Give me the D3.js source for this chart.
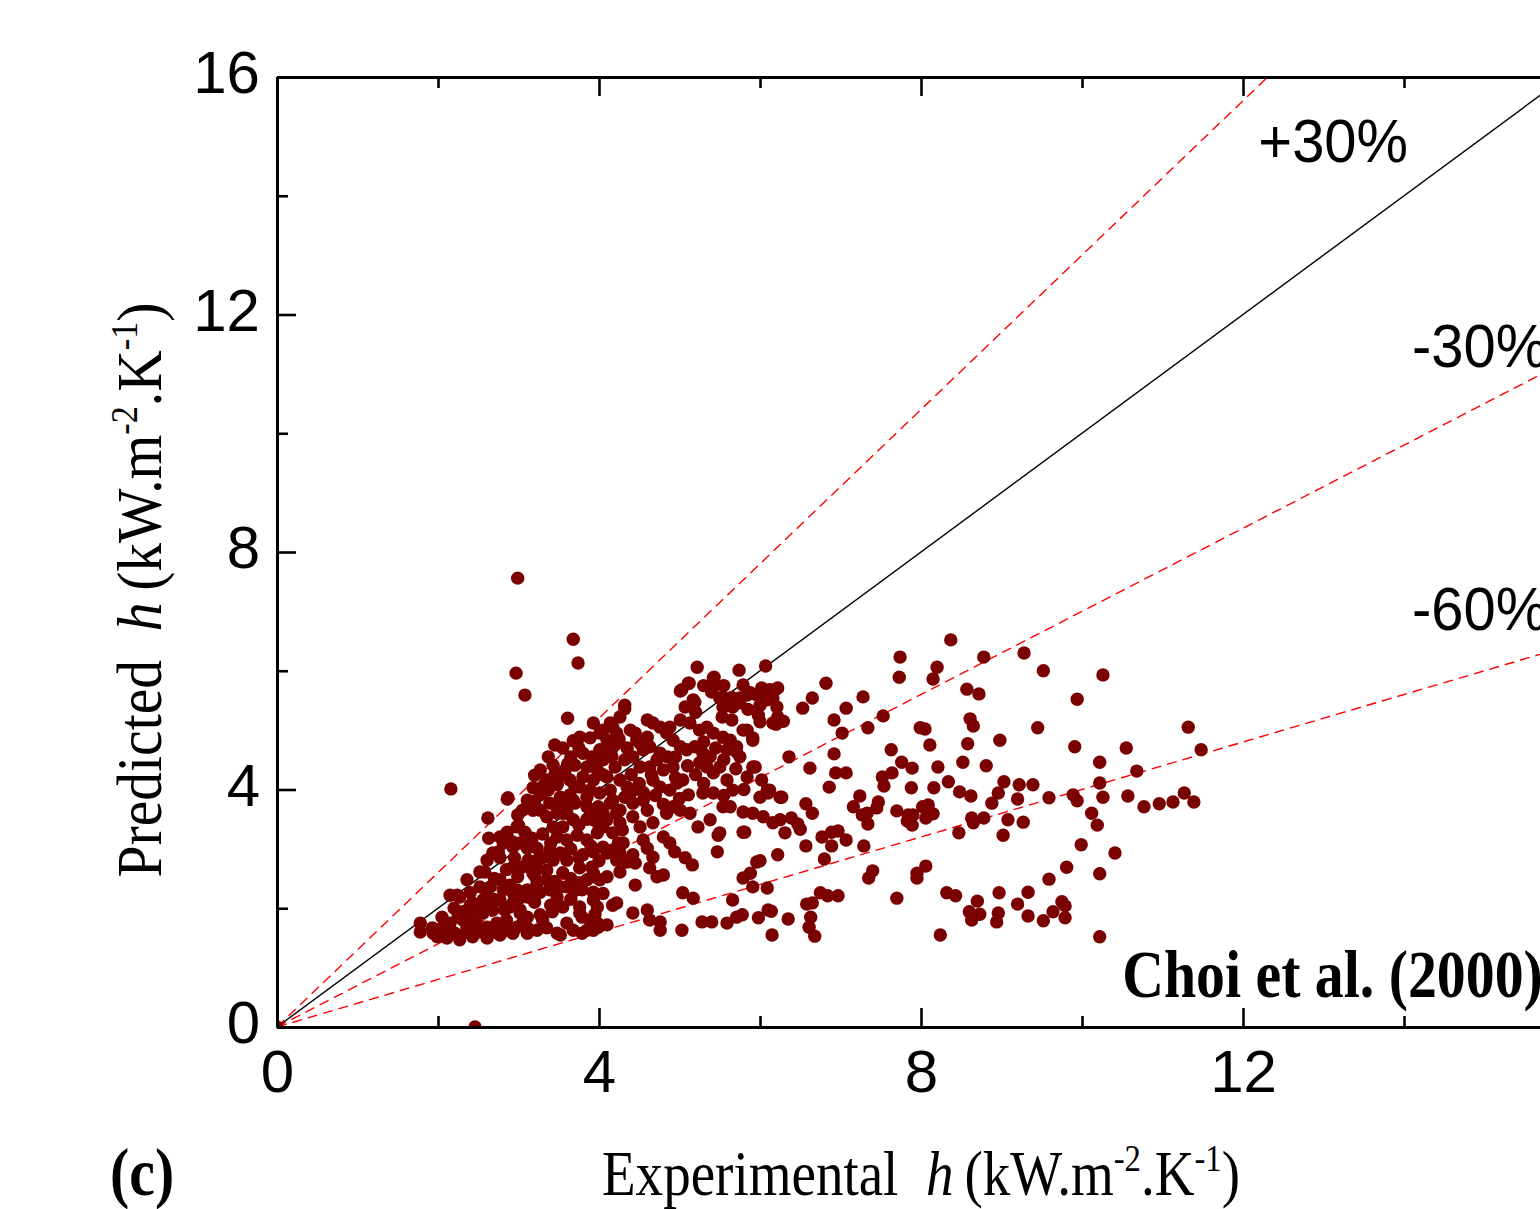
<!DOCTYPE html>
<html>
<head>
<meta charset="utf-8">
<script src="https://cdn.jsdelivr.net/npm/d3@7"></script>
<style>
  html, body { margin: 0; padding: 0; background: #fff; overflow: hidden; }
  svg { display: block; }
</style>
</head>
<body>
<svg id="chart" width="1540" height="1209"></svg>
<script>
// ---------------- data ----------------
const xDomain = [0, 16];
const yDomain = [0, 16];
const majorTicks = [0, 4, 8, 12, 16];
const minorTicks = [2, 6, 10, 14];
const xTickLabels = [0, 4, 8, 12];
const yTickLabels = [0, 4, 8, 12, 16];
const xTitle = "Experimental";
const yTitle = "Predicted";
const unitsMain = "(kW.m";
const unitsSup1 = "-2";
const unitsMid = ".K";
const unitsSup2 = "-1";
const panelLabel = "(c)";
const correlationLabel = "Choi et al. (2000)";
const deviationFactors = [1.3, 0.7, 0.4];
const deviationLabels = ["+30%", "-30%", "-60%"];
const deviationLabelPos = [[12.19, 14.57], [14.10, 11.12], [14.10, 6.69]];
const correlationLabelPos = [10.50, 0.50];

// [experimental h, predicted h]
const dataPoints = [
  [0,0],[2.46,0],
  [2.99,7.56],[3.68,6.53],[3.74,6.13],[2.97,5.96],[3.08,5.59],[3.61,5.20],[3.68,4.82],[2.16,4.01],
  [3.61,4.43],[2.62,3.52],[2.86,3.84],[2.63,3.18],[3.18,4.03],[3.34,4.13],
  [5.22,6.06],[5.74,6.01],[6.07,6.08],[5.43,5.89],[5.12,5.79],[5.01,5.66],[5.42,5.73],[5.40,5.64],
  [5.79,5.76],[5.54,5.56],[5.75,5.54],[5.88,5.63],[5.17,5.51],[5.07,5.39],[6.19,5.68],[6.09,5.51],
  [6.00,5.42],[6.21,5.39],[5.98,5.25],[6.00,5.14],[6.16,5.12],[5.84,5.00],[5.91,4.87],[5.66,4.72],
  [5.71,4.63],[5.94,4.38],[6.25,3.87],[6.02,4.16],[6.09,3.99],[6.10,3.94],[5.03,5.68],[5.11,5.79],
  [5.19,5.47],[5.42,5.88],[5.50,5.54],[5.54,5.39],[5.53,5.22],[5.65,5.17],[5.84,5.59],[5.75,5.46],
  [5.66,5.39],[6.12,5.68],[6.16,5.54],[6.04,5.51],[5.79,5.00],[5.91,4.83],[5.75,4.55],[5.91,4.38],
  [5.84,4.21],[6.12,3.99],[6.00,3.87],[5.50,4.38],[5.59,4.16],[5.42,3.94],[5.54,3.71],[5.63,3.71],
  [5.66,3.99],[5.38,3.49],[5.50,3.27],[5.79,3.28],[5.91,3.60],[6.04,3.54],[6.16,3.44],[6.25,3.49],
  [5.11,3.91],[5.29,3.94],[5.09,4.67],[5.19,4.72],[5.29,4.61],[5.38,4.55],[5.25,4.45],[5.34,4.38],
  [5.42,4.28],[5.01,5.17],[5.13,5.12],[5.25,5.00],[5.34,5.05],[5.42,4.95],[5.54,4.88],[5.63,4.83],
  [5.71,4.72],[5.59,4.67],
  [3.35,4.16],[3.48,4.11],[3.30,3.94],[3.39,3.77],[3.52,3.87],[3.27,3.65],[3.93,5.12],[4.05,5.00],
  [4.14,5.12],[4.26,5.22],[4.32,5.36],[4.22,4.95],[4.10,4.83],[3.80,4.61],[3.91,4.55],[3.85,4.38],
  [3.98,4.33],[4.05,4.50],[4.16,4.55],[4.20,4.38],[4.10,4.21],[3.93,4.16],[3.80,4.21],[3.76,4.04],
  [3.89,3.99],[4.01,3.94],[4.14,3.99],[4.26,4.16],[4.35,4.04],[3.70,3.77],[3.85,3.71],[3.99,3.71],
  [4.14,3.77],[4.26,3.65],[4.42,3.77],[4.55,3.82],[4.60,3.65],[4.42,3.54],[4.26,3.44],[4.10,3.49],
  [3.93,3.49],[4.29,3.32],[4.51,3.37],[4.67,3.44],[4.84,3.60],[4.92,3.71],[5.01,3.65],[5.13,3.60],
  [4.39,5.00],[4.47,4.83],[4.55,4.67],[4.60,4.88],[4.67,5.12],[4.76,5.05],[4.84,4.95],[4.92,4.83],
  [5.01,4.72],[4.42,4.55],[4.51,4.38],[4.63,4.38],[4.72,4.50],[4.80,4.33],[4.92,4.38],[4.67,4.16],
  [4.76,4.04],[4.88,3.99],[4.97,4.11],[5.04,4.16],[4.32,5.42],[4.01,4.95],[4.17,5.05],[4.60,5.17],
  [4.88,5.05],[4.76,4.61],[4.63,4.72],[4.51,4.78],
  [3.70,4.41],[3.64,4.16],[4.01,4.67],[4.20,4.75],[4.32,4.50],[4.32,3.87],[3.64,3.91],[3.95,3.57],
  [3.58,4.33],[3.76,4.88],[3.89,4.87],[3.27,4.33],[3.43,4.41],[3.52,4.24],[3.37,4.55],[3.20,4.24],
  [3.45,4.75],
  [3.55,4.70],[3.65,4.55],[3.75,4.70],[3.95,4.45],[4.05,4.25],[4.15,4.65],[4.25,4.85],[4.35,4.70],
  [4.45,4.95],[4.40,4.25],[4.50,4.10],[4.55,3.95],[4.40,3.95],[4.70,3.90],[4.80,3.75],[4.65,4.25],
  [4.85,4.55],[4.95,4.55],[3.45,3.75],[3.55,3.60],[3.60,3.75],[3.75,3.40],[3.85,3.50],[4.00,3.40],
  [4.05,3.60],[3.70,4.05],[3.45,4.25],[3.30,4.05],[3.20,3.80],[3.05,3.65],[3.00,3.40],[3.30,3.25],
  [3.40,3.10],[3.65,3.00],[3.75,2.85],[3.90,3.05],[4.00,2.80],[3.30,2.85],[3.20,2.55],[3.45,2.45],
  [3.65,2.50],[3.55,2.60],[2.85,2.65],[2.70,2.50],[2.95,2.85],[2.70,2.15],[2.60,2.30],[3.00,2.15],
  [3.20,2.10],[2.40,2.05],[2.05,1.85],[2.20,2.00],[2.00,1.60],[2.35,1.60],[2.50,1.60],[2.70,1.60],
  [2.85,1.80],[3.05,1.75],[3.30,1.80],[3.40,2.05],[3.65,2.15],[3.60,1.75],[3.95,1.90],[4.05,2.25],
  [3.70,2.30],
  [5.20,5.30],[5.30,5.75],[5.55,5.75],[5.65,5.55],[5.85,5.35],[5.95,5.60],[5.30,4.80],[5.45,4.70],
  [5.20,4.25],[5.30,4.10],[5.55,4.50],[5.70,4.35],[5.80,4.00],[5.55,3.90],[5.00,3.85],[5.10,4.40],
  [4.95,4.20],
  [2.87,3.86],[3.27,3.91],[3.37,3.99],[3.48,4.08],[3.11,3.82],[3.18,3.65],[2.99,3.57],[2.98,3.37],
  [3.08,3.28],[2.92,3.12],[2.81,3.15],[2.75,2.95],[2.77,2.85],[3.17,3.18],[3.11,3.01],[3.23,3.01],
  [3.12,2.81],[3.14,2.69],[3.23,2.69],[3.35,3.54],[3.48,3.60],[3.60,3.60],[3.68,3.49],[3.43,3.37],
  [3.55,3.37],[3.48,3.20],[3.60,3.15],[3.73,3.23],[3.85,3.15],[3.98,3.27],[4.05,3.37],[4.17,3.27],
  [3.39,2.98],[3.52,2.93],[3.43,2.81],[3.60,2.81],[3.80,2.90],[3.93,2.95],[4.05,3.03],[4.17,2.98],
  [4.24,3.10],[3.68,3.82],[3.85,3.87],[4.17,3.82],[4.22,3.60],
  [2.58,2.61],[2.36,2.48],[2.52,2.36],[2.65,2.36],[2.77,2.48],[2.81,2.31],[2.89,2.39],[2.99,2.53],
  [3.04,2.69],[2.93,2.69],[2.15,2.22],[2.24,2.22],[2.40,2.26],[2.43,2.09],[2.56,2.14],
  [1.78,1.75],[1.78,1.60],[1.93,1.67],[1.99,1.52],[2.06,1.68],[2.15,1.75],[2.25,1.85],[2.31,1.94],
  [2.36,1.68],[2.21,1.58],[2.48,1.75],[2.56,1.92],[2.68,1.97],[2.77,2.14],[2.61,1.68],[2.73,1.75],
  [2.86,1.63],[2.98,1.68],[3.11,1.67],[3.23,1.63],[3.35,1.67],[3.48,1.58],[2.89,2.02],[3.02,1.97],
  [3.11,2.19],[3.18,2.22],[3.27,2.27],[3.39,2.31],[3.52,2.36],[3.60,2.36],[3.48,2.19],[3.55,2.02],
  [3.42,1.94],[3.27,1.89],[3.11,1.85],[2.93,2.26],[3.76,2.02],[3.79,1.85],[3.89,1.80],[3.85,1.63],
  [3.99,1.68],[4.10,1.72],[3.79,2.31],[3.85,2.48],[3.93,2.53],[4.01,2.48],[4.10,2.53],[4.17,2.05],
  [3.76,2.68],[3.91,2.69],[3.52,1.55],[3.68,1.63],[3.79,1.58],
  [1.94,1.58],[2.11,1.50],[2.27,1.47],[2.43,1.52],[2.61,1.50],[2.77,1.55],[2.93,1.58],[3.11,1.58],
  [3.93,1.63],[3.98,1.75],[3.76,1.92],[3.93,2.14],[3.98,2.02],[3.76,2.43],[3.93,2.27],[3.93,2.59],
  [4.22,2.09],[4.42,1.92],[4.60,1.97],[4.63,1.80],[4.76,1.77],[4.76,1.63],[4.45,2.39],[5.03,1.63],
  [5.04,2.26],[5.17,2.17],[5.28,1.77],[5.40,1.77],[5.59,1.75],[5.71,1.85],[5.78,1.89],[5.66,2.14],
  [5.98,1.84],[6.10,1.97],[6.15,1.55],[5.47,2.95],[5.48,3.23],[5.81,3.28],[5.79,3.62],[5.88,2.59],
  [5.96,2.78],[5.79,2.51],[6.09,2.34],[5.91,2.36],[5.23,3.37],[5.16,2.73],[5.07,2.85],[4.94,2.95],
  [4.88,3.10],[4.80,3.20],[4.67,2.86],[4.60,3.01],[4.55,3.15],[4.45,2.76],[4.42,2.90],[4.35,2.78],
  [4.26,2.93],[4.30,3.10],[4.22,2.81],[4.72,2.53],[4.63,2.68],[4.80,2.56],[4.10,2.93],[4.26,2.61],
  [2.52,2.61],[2.27,2.19],[2.61,2.81],[2.68,2.93],[2.81,3.10],[2.77,3.20],[2.86,3.28],[2.93,3.03],
  [3.02,3.10],[3.11,3.20],[3.11,2.76],[3.23,2.81],[3.18,2.59],[3.35,2.64],[3.35,2.48],[3.23,2.43],
  [3.11,2.31],[2.98,2.31],[2.93,2.09],[3.02,1.92],[2.83,1.97],[2.65,2.02],[2.52,2.00],[2.43,1.85],
  [2.31,1.80],[2.11,1.68],
  [6.02,5.71],[6.22,5.71],[6.15,5.64],[6.06,5.56],[6.82,5.79],[6.65,5.54],[6.53,5.37],[7.07,5.37],
  [7.28,5.56],[6.92,5.17],[7.02,4.95],[7.34,5.04],[7.53,5.24],[6.22,5.22],[6.20,5.10],[6.29,5.15],
  [6.36,4.55],[6.62,4.36],[6.92,4.60],[6.94,4.28],[7.07,4.28],[6.86,4.04],[6.27,3.87],[6.57,3.76],
  [6.65,3.60],[7.16,3.71],[7.24,3.89],[7.27,3.57],[7.33,3.60],[7.34,3.42],[7.47,3.79],[7.45,3.69],
  [7.70,3.64],[7.52,4.21],[7.64,4.28],[7.54,4.06],[7.63,4.67],[7.76,4.46],[7.89,4.36],[7.88,4.03],
  [7.99,5.04],[8.05,5.02],[8.11,4.75],[8.21,4.38],[8.16,4.03],[8.34,4.13],[8.48,3.96],[8.62,3.89],
  [8.52,4.46],[8.58,4.77],[8.61,5.19],[8.65,5.07],[8.57,5.69],[8.72,5.61],[7.74,6.23],[7.73,5.89],
  [8.20,6.06],[8.15,5.86],[8.37,6.52],[8.78,6.23],[9.28,6.30],[9.52,6.00],[8.98,4.83],[8.81,4.40],
  [9.45,5.04],[9.94,5.52],[10.26,5.93],[9.91,4.72],[11.32,5.05],[11.48,4.67],[10.55,4.70],[10.22,4.46],
  [10.68,4.31],[10.22,4.11],[10.26,3.87],[9.89,3.91],[9.94,3.81],[9.59,3.86],[9.03,4.13],[8.96,3.94],
  [8.88,3.77],[9.22,4.08],[9.39,4.08],[9.20,3.84],[9.08,3.49],[9.27,3.45],[9.02,3.23],[8.78,3.52],
  [8.63,3.52],[8.65,3.44],[8.47,3.27],[10.12,3.60],[10.19,3.40],[10.57,3.89],[10.77,3.71],[10.96,3.76],
  [11.13,3.79],[11.27,3.94],[11.39,3.79],[9.99,3.07],[10.41,2.93],[9.81,2.69],[10.22,2.58],[9.59,2.49],
  [9.33,2.27],[9.20,2.07],[9.33,1.87],[9.52,1.79],[9.64,1.94],[9.75,2.11],[9.79,2.04],[9.79,1.84],
  [10.22,1.52],[8.97,2.26],[8.96,1.92],[8.94,1.77],[8.70,2.12],[8.60,1.94],[8.63,1.80],[8.73,1.90],
  [8.32,2.26],[8.43,2.21],[8.24,1.55],[7.70,2.17],[8.06,2.71],[7.95,2.59],[7.95,2.51],[7.40,2.63],
  [7.35,2.51],[7.29,3.05],[6.80,2.83],[6.57,3.05],[6.77,3.20],[6.89,3.05],[6.89,3.28],[6.97,3.30],
  [7.07,3.15],[6.31,3.27],[6.50,3.33],[6.39,3.52],[6.47,3.42],[6.22,2.90],[6.00,2.80],[6.75,2.26],
  [6.84,2.21],[6.97,2.21],[6.58,2.07],[6.65,2.09],[6.63,1.85],[6.61,1.68],[6.68,1.53],[6.14,1.95],
  [6.35,1.82],[7.84,3.57],[7.90,3.57],[7.89,3.40],[8.02,3.71],[8.09,3.74],[8.11,3.60],[8.15,3.59],
  [8.06,3.52],[7.83,3.47]
];

// ---------------- layout ----------------
const plot = { left: 277, top: 77, right: 1565, bottom: 1027 };
const svg = d3.select("#chart");

const x = d3.scaleLinear().domain(xDomain).range([plot.left, plot.right]);
const y = d3.scaleLinear().domain(yDomain).range([plot.bottom, plot.top]);

const sans = "'Liberation Sans', Arial, sans-serif";
const serif = "'Liberation Serif', 'Times New Roman', serif";

svg.append("defs").append("clipPath").attr("id", "plotClip")
  .append("rect")
  .attr("x", plot.left).attr("y", plot.top)
  .attr("width", plot.right - plot.left).attr("height", plot.bottom - plot.top);

const inner = svg.append("g").attr("clip-path", "url(#plotClip)");

// reference lines
const line = d3.line().x(d => x(d[0])).y(d => y(d[1]));
inner.append("path")
  .attr("d", line([[0, 0], [16, 16]]))
  .attr("fill", "none").attr("stroke", "#000").attr("stroke-width", 1.4);

deviationFactors.forEach(f => {
  const xe = Math.min(xDomain[1], yDomain[1] / f);
  inner.append("path")
    .attr("d", line([[0, 0], [xe, f * xe]]))
    .attr("fill", "none").attr("stroke", "#ff0000")
    .attr("stroke-width", 1.4).attr("stroke-dasharray", "10,6");
});

// points
inner.append("g").selectAll("circle").data(dataPoints).join("circle")
  .attr("cx", d => x(d[0])).attr("cy", d => y(d[1]))
  .attr("r", 6.7).attr("fill", "#7b0000");

// axes
function styleAxis(g) {
  g.selectAll("path.domain").attr("stroke", "#000").attr("stroke-width", 3);
  g.selectAll(".tick line").attr("stroke", "#000").attr("stroke-width", 2.6);
  g.selectAll("text").attr("font-family", sans).attr("font-size", 60).attr("fill", "#000");
}

const fmt = d3.format("d");
// bottom
svg.append("g").attr("transform", `translate(0,${plot.bottom})`)
  .call(d3.axisBottom(x).tickValues(majorTicks).tickFormat("").tickSize(-19).tickSizeOuter(0))
  .call(styleAxis);
svg.append("g").attr("transform", `translate(0,${plot.bottom})`)
  .call(d3.axisBottom(x).tickValues(xTickLabels).tickFormat(fmt).tickSize(0).tickSizeOuter(0).tickPadding(22))
  .call(styleAxis)
  .call(g => g.select(".domain").remove());
svg.append("g").attr("transform", `translate(0,${plot.bottom})`)
  .call(d3.axisBottom(x).tickValues(minorTicks).tickFormat("").tickSize(-11).tickSizeOuter(0))
  .call(styleAxis);
// top
svg.append("g").attr("transform", `translate(0,${plot.top})`)
  .call(d3.axisTop(x).tickValues(majorTicks).tickFormat("").tickSize(-19).tickSizeOuter(0))
  .call(styleAxis);
svg.append("g").attr("transform", `translate(0,${plot.top})`)
  .call(d3.axisTop(x).tickValues(minorTicks).tickFormat("").tickSize(-11).tickSizeOuter(0))
  .call(styleAxis);
// left
svg.append("g").attr("transform", `translate(${plot.left},0)`)
  .call(d3.axisLeft(y).tickValues(majorTicks).tickFormat("").tickSize(-19).tickSizeOuter(0))
  .call(styleAxis);
const leftLabels = svg.append("g").attr("transform", `translate(${plot.left},0)`)
  .call(d3.axisLeft(y).tickValues(yTickLabels).tickFormat(fmt).tickSize(0).tickSizeOuter(0).tickPadding(17))
  .call(styleAxis)
  .call(g => g.select(".domain").remove());
leftLabels.selectAll("text").attr("dy", "0.26em");
svg.append("g").attr("transform", `translate(${plot.left},0)`)
  .call(d3.axisLeft(y).tickValues(minorTicks).tickFormat("").tickSize(-11).tickSizeOuter(0))
  .call(styleAxis);
// right
svg.append("g").attr("transform", `translate(${plot.right},0)`)
  .call(d3.axisRight(y).tickValues(majorTicks).tickFormat("").tickSize(-19).tickSizeOuter(0))
  .call(styleAxis);
svg.append("g").attr("transform", `translate(${plot.right},0)`)
  .call(d3.axisRight(y).tickValues(minorTicks).tickFormat("").tickSize(-11).tickSizeOuter(0))
  .call(styleAxis);

// deviation labels
deviationLabels.forEach((lab, i) => {
  svg.append("g")
    .attr("transform", `translate(${x(deviationLabelPos[i][0])},${y(deviationLabelPos[i][1])}) scale(0.95,1)`)
    .append("text")
    .attr("font-family", sans).attr("font-size", 61).attr("fill", "#000")
    .text(lab);
});

// correlation label
svg.append("g")
  .attr("transform", `translate(${x(correlationLabelPos[0])},${y(correlationLabelPos[1])}) scale(0.85,1)`)
  .append("text")
  .attr("font-family", serif).attr("font-weight", "bold").attr("font-size", 68).attr("fill", "#000")
  .text(correlationLabel);

// axis titles
function title(g, main) {
  const t = g.append("text")
    .attr("font-family", serif).attr("font-size", 64).attr("fill", "#000")
    .attr("text-anchor", "middle");
  t.append("tspan").text(main + "\u2002");
  t.append("tspan").attr("font-style", "italic").text("h");
  t.append("tspan").text("\u2009" + unitsMain);
  t.append("tspan").attr("font-size", 38).attr("dy", -24).text(unitsSup1);
  t.append("tspan").attr("dy", 24).text(unitsMid);
  t.append("tspan").attr("font-size", 38).attr("dy", -24).text(unitsSup2);
  t.append("tspan").attr("dy", 24).text(")");
  return t;
}
title(svg.append("g").attr("transform", `translate(${x(8)},1195) scale(0.86,1)`), xTitle);
title(svg.append("g").attr("transform", `translate(161,590) rotate(-90) scale(0.9,1)`), yTitle);

// panel label
svg.append("g").attr("transform", "translate(110,1195) scale(0.85,1)")
  .append("text")
  .attr("font-family", serif).attr("font-weight", "bold").attr("font-size", 68).attr("fill", "#000")
  .text(panelLabel);
</script>
</body>
</html>
